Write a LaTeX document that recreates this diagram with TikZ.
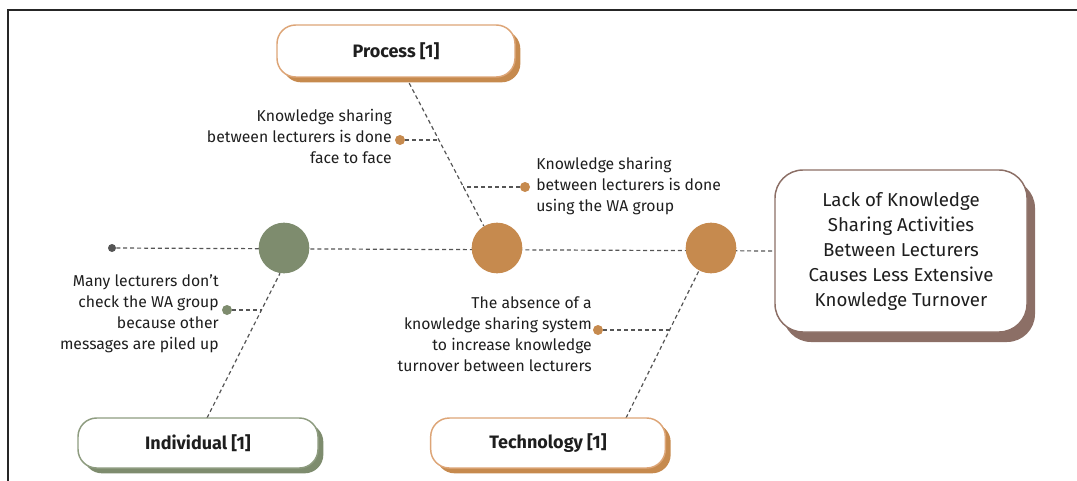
\documentclass[tikz,border=0pt]{standalone}
\usepackage{fontspec}
\setmainfont{Fira Sans}
\usetikzlibrary{backgrounds,shadows}
\definecolor{orng}{HTML}{C68A4E}
\definecolor{lorng}{HTML}{DDA577}
\definecolor{grn}{HTML}{7E8C6E}
\definecolor{lgrn}{HTML}{8E9C80}
\definecolor{brwn}{HTML}{8C6F66}
\definecolor{txtc}{HTML}{1E1E1E}
\definecolor{linec}{HTML}{555555}
\tikzset{
  lbl/.style={font=\fontsize{11.8}{15.75}\selectfont, text=txtc, inner sep=0pt},
  catbox/.style={rounded corners=14pt, fill=white, line width=1.1pt,
    minimum height=37.5pt, font=\fontsize{13.5}{15}\selectfont\bfseries, text=txtc},
  hub/.style={circle, minimum size=38pt, inner sep=0pt},
  bdot/.style={circle, minimum size=7.5pt, inner sep=0pt},
  bone/.style={dash pattern=on 3pt off 2.2pt, line width=0.9pt, draw=linec},
}
\begin{document}
\begin{tikzpicture}[x=0.75pt,y=-0.75pt]
\useasboundingbox (0,0) rectangle (1077,481);
\draw[line width=1.4pt, black!85] (8,481) -- (8,10) -- (1077,10);

% category boxes
\node[catbox, draw=lorng, minimum width=178.5pt, minimum height=39pt,
  copy shadow={shadow xshift=4pt, shadow yshift=-4pt, fill=orng, draw=none}]
  (proc) at (396,51) {Process [1]};
\node[catbox, draw=lgrn, minimum width=180pt,
  copy shadow={shadow xshift=4pt, shadow yshift=-4pt, fill=grn, draw=none}]
  (ind) at (198,443) {Individual [1]};
\node[catbox, draw=lorng, minimum width=176pt,
  copy shadow={shadow xshift=4pt, shadow yshift=-4pt, fill=orng, draw=none}]
  (tech) at (548,443) {Technology [1]};

% main effect box
\node[rounded corners=21pt, fill=white, draw=brwn, line width=1.1pt,
  minimum width=189pt, minimum height=121.5pt, align=center, text=txtc,
  font=\fontsize{14}{18.75}\selectfont,
  copy shadow={shadow xshift=6pt, shadow yshift=-7.5pt, fill=brwn, draw=none}]
  (main) at (901,251) {Lack of Knowledge\\Sharing Activities\\Between Lecturers\\Causes Less Extensive\\Knowledge Turnover};

% hubs
\node[hub, fill=grn] (g) at (284,248) {};
\node[hub, fill=orng] (o1) at (497,248) {};
\node[hub, fill=orng] (o2) at (711,248) {};
\node[bdot, fill=linec, minimum size=6pt] (ldot) at (112,248) {};

% branch dots
\node[bdot, fill=orng] (d1) at (400,140) {};
\node[bdot, fill=orng] (d2) at (525,187) {};
\node[bdot, fill=grn] (d3) at (227,310) {};
\node[bdot, fill=orng] (d4) at (598,330) {};

% bone coordinates
\coordinate (pb) at (406,77);
\coordinate (pj1) at (439,140);
\coordinate (pj2) at (463,187);
\coordinate (ib) at (207,418);
\coordinate (ij) at (261,310);
\coordinate (tb) at (626,418);
\coordinate (tj) at (670,330);

% labels
\node[lbl, align=right, anchor=east] (t1) at (392,136)
  {Knowledge sharing\\between lecturers is done\\face to face};
\node[lbl, align=left, anchor=west] (t2) at (536,186)
  {Knowledge sharing\\between lecturers is done\\using the WA group};
\node[lbl, align=right, anchor=east] (t3) at (219,314)
  {Many lecturers don't\\check the WA group\\because other\\messages are piled up};
\node[lbl, align=right, anchor=east] (t4) at (592,334)
  {The absence of a\\knowledge sharing system\\to increase knowledge\\turnover between lecturers};

\begin{pgfonlayer}{background}
  \draw[bone] (ldot) -- (main.west);
  \draw[bone] (pb) -- (o1.121);
  \draw[bone] (ib) -- (g.261);
  \draw[bone] (tb) -- (o2.242);
  \draw[bone] (d1) -- (pj1);
  \draw[bone] (d2) -- (pj2);
  \draw[bone] (d3) -- (ij);
  \draw[bone] (d4) -- (tj);
\end{pgfonlayer}
\end{tikzpicture}
\end{document}
